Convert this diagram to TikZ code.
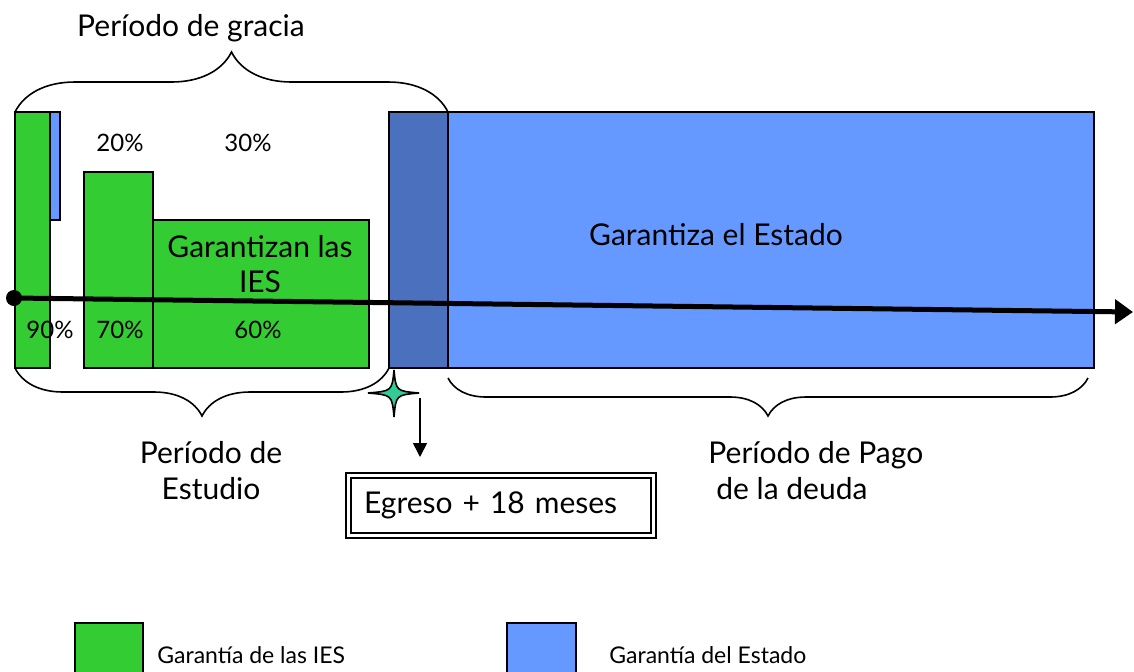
\documentclass[tikz,border=0pt]{standalone}
\usepackage{fontspec}
\setmainfont{Lato}
\usetikzlibrary{decorations.pathreplacing, arrows.meta, positioning}
\definecolor{iesgreen}{RGB}{51,204,51}
\definecolor{estblue}{RGB}{102,153,255}
\definecolor{estdark}{RGB}{74,112,190}
\definecolor{starcol}{RGB}{51,204,153}

\tikzset{
  iesbar/.style={fill=iesgreen, draw=black, line width=1pt},
  estbar/.style={fill=estblue, draw=black, line width=1pt},
  bigtxt/.style={font=\fontsize{15}{18}\selectfont, align=center, inner sep=0pt},
  pct/.style={font=\fontsize{12}{14}\selectfont, inner sep=0pt},
  legtxt/.style={font=\fontsize{11.5}{13}\selectfont, anchor=west, inner sep=0pt},
  curly/.style={decorate, line width=0.8pt},
}

\begin{document}
\begin{tikzpicture}[x=0.5pt, y=-0.5pt]
\useasboundingbox (0,0) rectangle (1134,671);
\clip (0,0) rectangle (1134,671);

% bars of the IES
\draw[iesbar] (15,112) rectangle (50,368);
\draw[estbar, line width=0.6pt] (50,112) rectangle (60,220);
\draw[iesbar] (84,172) rectangle (153,368);
\draw[iesbar] (153,220) rectangle (369,368);

% bars of the state
\draw[fill=estdark, draw=black, line width=1pt] (389,112) rectangle (448,368);
\draw[estbar] (448,112) rectangle (1094,368);

\node[pct] (p20) at (120,143) {20\%};
\node[pct] (p30) at (248,143) {30\%};
\node[pct] (p90) at (50,330) {90\%};
\node[pct] (p70) at (120,330) {70\%};
\node[pct] (p60) at (258,330) {60\%};

\node[bigtxt, font=\fontsize{15}{17.5}\selectfont] (ies) at (260,264) {Garantizan las\\IES};
\node[bigtxt] (estado) at (716,235) {Garantiza el Estado};

% time line
\node[circle, fill=black, inner sep=0pt, minimum size=8pt] (start) at (14,298) {};
\coordinate (tend) at (1133,312);
\draw[line width=2.5pt, -{Triangle[length=9pt, width=12pt]}] (start.center) -- (tend);

% braces
\draw[curly, decoration={brace, amplitude=30pt}] (15,112) -- (448,112);
\node[bigtxt] (gracia) at (191,28) {Período de gracia};

\draw[curly, decoration={brace, mirror, amplitude=24pt}] (15,368) -- (389,368);
\node[bigtxt] (estudio) at (211,471) {Período de\\Estudio};

\draw[curly, decoration={brace, mirror, amplitude=19pt}] (448,378) -- (1088,378);
\node[bigtxt, anchor=west, align=left] (pago) at (708,471) {Período de Pago\\\hspace{4pt}de la deuda};

% star and box
\draw[fill=starcol, line width=0.8pt] (394,370) .. controls (396,391) .. (419,393)
  .. controls (396,395) .. (394,417) .. controls (392,395) .. (368,393)
  .. controls (392,391) .. (394,370) -- cycle;
\node[draw, double, line width=1pt, double distance=1.5pt, text width=136.5pt,
  inner xsep=8pt, minimum height=30pt, align=left, font=\fontsize{15}{18}\selectfont]
  (egreso) at (500.5,505) {Egreso + 18 meses};
\coordinate (egr) at (420,398);
\draw[line width=0.8pt, -{Triangle[length=7pt, width=7pt]}, shorten >=8.5pt] (egr) -- (egr |- egreso.north);

% legend
\draw[iesbar] (75,623) rectangle (143,690);
\node[legtxt] (legies) at (157,655) {Garantía de las IES};
\draw[estbar] (507,623) rectangle (576,690);
\node[legtxt] (legest) at (609,655) {Garantía del Estado};
\end{tikzpicture}
\end{document}
